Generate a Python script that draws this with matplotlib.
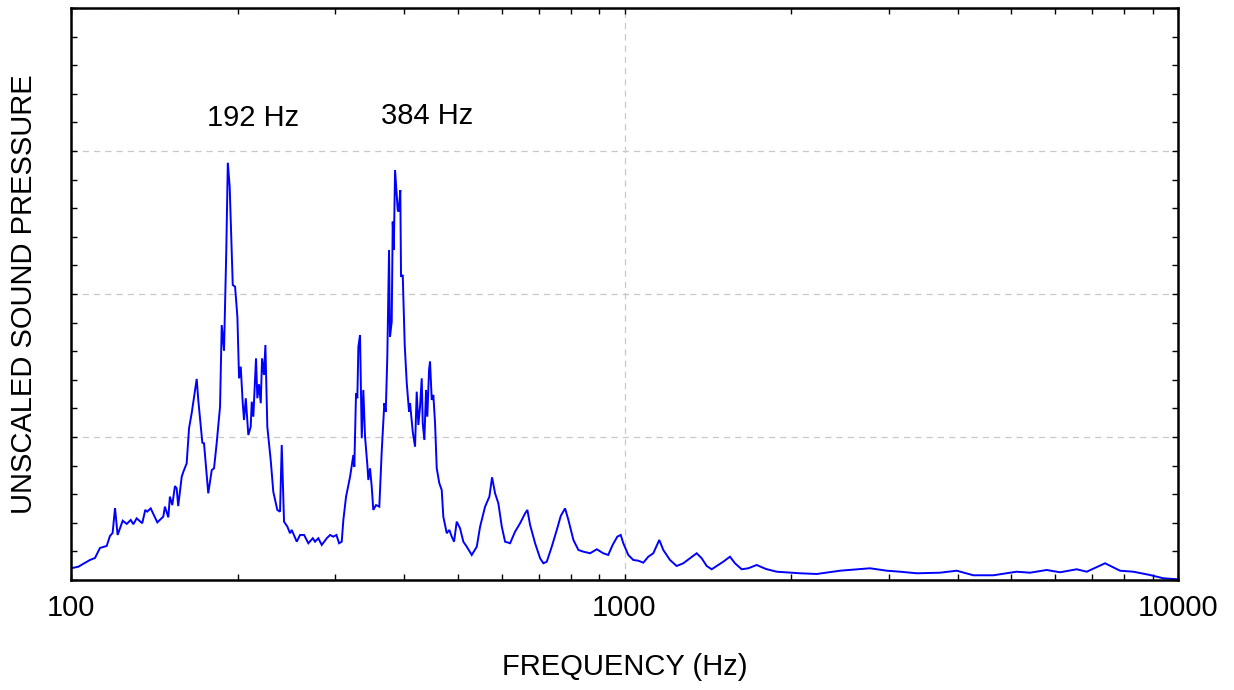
import matplotlib
matplotlib.use("Agg")
import matplotlib.pyplot as plt
from matplotlib.ticker import FixedLocator, NullFormatter, LogLocator, FixedFormatter

# ---- data ----
freq_hz = [
    100, 103.1, 108.2, 110.5, 112.8, 116.0, 117.6, 118.9, 120.1, 121.4,
    124.0, 126.1, 128.2, 129.6, 131.4, 134.5, 136.2, 137.3, 139.3, 143.2,
    146.8, 147.8, 149.9, 150.9, 152.4, 154.1, 155.2, 156.2, 158.5, 159.6,
    161.8, 163.4, 165.2, 168.7, 169.8, 172.7, 173.9, 177.0, 179.6, 181.3,
    183.3, 185.9, 187.2, 189.0, 190.8, 192.0, 193.5, 196.0, 197.9, 199.8,
    201.2, 202.6, 204.3, 205.4, 206.9, 209.1, 211.2, 212.1, 213.5, 215.9,
    217.1, 218.6, 220.2, 221.4, 223.2, 224.5, 226.3, 229.5, 232.0, 235.9,
    238.6, 240.3, 242.6, 246.0, 248.7, 250.5, 255.8, 259.3, 263.7, 268.4,
    273.4, 276.0, 279.8, 283.8, 289.8, 293.8, 297.8, 301.7, 305.0, 308.4,
    310.5, 314.0, 319.3, 323.7, 325.0, 327.3, 329.1, 330.5, 332.8, 335.2,
    337.4, 339.8, 343.1, 344.5, 346.9, 349.4, 351.7, 355.7, 360.6, 364.2,
    368.2, 370.4, 372.8, 375.5, 377.0, 379.7, 381.3, 383.0, 385.0, 389.3,
    390.9, 393.5, 394.7, 397.5, 400.8, 404.2, 408.1, 409.8, 414.4, 418.4,
    421.3, 424.2, 427.2, 430.2, 432.0, 434.9, 438.0, 440.3, 443.5, 445.3,
    448.5, 451.5, 454.7, 457.9, 462.9, 467.5, 470.6, 477.4, 482.6, 487.4,
    492.1, 497.6, 504.5, 511.5, 518.8, 529.7, 540.9, 548.4, 559.9, 570.0,
    576.4, 583.7, 591.7, 600.2, 608.5, 621.3, 634.3, 647.7, 661.3, 667.6,
    675.2, 689.4, 703.9, 713.6, 723.7, 738.9, 754.5, 767.1, 781.0, 791.8,
    808.5, 825.5, 842.8, 866.7, 891.1, 915.3, 934.5, 951.8, 970.5, 984.3,
    995.0, 1015.9, 1037.3, 1059.1, 1081.3, 1104.1, 1127.3, 1155.7, 1175.1, 1208.2,
    1242.4, 1277.0, 1313.1, 1350.2, 1378.6, 1407.6, 1437.2, 1467.4, 1508.2, 1550.8,
    1583.4, 1628.2, 1673.5, 1733.0, 1801.3, 1883.3, 1990.6, 2075.2, 2225.2, 2451.5,
    2776.7, 2977, 3146, 3373, 3715, 3983, 4268, 4638, 5112, 5403,
    5790, 6122, 6562, 6841, 7382, 7858, 8304, 8899, 9407, 10000,
]
pressure = [
    0.082, 0.093, 0.140, 0.154, 0.224, 0.238, 0.308, 0.329, 0.503, 0.315,
    0.415, 0.392, 0.420, 0.390, 0.431, 0.397, 0.490, 0.478, 0.501, 0.403,
    0.443, 0.513, 0.438, 0.583, 0.524, 0.657, 0.641, 0.517, 0.722, 0.757,
    0.816, 1.061, 1.166, 1.406, 1.259, 0.960, 0.956, 0.606, 0.769, 0.781,
    0.956, 1.212, 1.783, 1.603, 2.308, 2.918, 2.750, 2.063, 2.051, 1.841,
    1.410, 1.492, 1.236, 1.119, 1.271, 1.014, 1.072, 1.247, 1.142, 1.550,
    1.271, 1.369, 1.236, 1.550, 1.434, 1.643, 1.072, 0.839, 0.617, 0.490,
    0.478, 0.944, 0.408, 0.373, 0.327, 0.350, 0.268, 0.315, 0.315, 0.257,
    0.292, 0.268, 0.292, 0.245, 0.292, 0.315, 0.303, 0.315, 0.257, 0.268,
    0.420, 0.583, 0.722, 0.874, 0.792, 1.306, 1.271, 1.631, 1.713, 0.991,
    1.329, 1.002, 0.804, 0.699, 0.781, 0.652, 0.490, 0.524, 0.513, 0.897,
    1.236, 1.177, 1.562, 2.308, 1.701, 1.806, 2.506, 2.308, 2.867, 2.587,
    2.576, 2.727, 2.121, 2.133, 1.643, 1.376, 1.177, 1.236, 1.037, 0.932,
    1.317, 1.084, 1.212, 1.410, 1.096, 0.979, 1.329, 1.142, 1.469, 1.527,
    1.259, 1.294, 1.096, 0.781, 0.676, 0.629, 0.443, 0.327, 0.350, 0.303,
    0.268, 0.408, 0.362, 0.268, 0.233, 0.175, 0.233, 0.373, 0.513, 0.583,
    0.718, 0.606, 0.536, 0.373, 0.268, 0.257, 0.338, 0.397, 0.466, 0.490,
    0.385, 0.257, 0.152, 0.117, 0.128, 0.233, 0.350, 0.448, 0.501, 0.420,
    0.280, 0.210, 0.198, 0.187, 0.215, 0.187, 0.175, 0.245, 0.303, 0.315,
    0.257, 0.175, 0.140, 0.135, 0.121, 0.163, 0.187, 0.280, 0.210, 0.140,
    0.098, 0.117, 0.152, 0.187, 0.152, 0.098, 0.075, 0.098, 0.128, 0.163,
    0.117, 0.075, 0.082, 0.105, 0.077, 0.058, 0.052, 0.047, 0.042, 0.065,
    0.082, 0.065, 0.058, 0.047, 0.051, 0.065, 0.033, 0.033, 0.058, 0.051,
    0.070, 0.054, 0.075, 0.058, 0.117, 0.065, 0.058, 0.035, 0.012, 0.005,
]
x_tick_values = [100, 1000, 10000]
x_tick_labels = ["100", "1000", "10000"]
peak_labels = ["192 Hz", "384 Hz"]

plt.rcParams["font.family"] = ["Liberation Sans", "DejaVu Sans"]
FS = 21

fig = plt.figure(figsize=(12.34, 6.90), dpi=100)
ax = fig.add_axes([71 / 1234, 1 - 580 / 690, (1178 - 71) / 1234, (580 - 8) / 690])

ax.plot(freq_hz, pressure, color="#0000ff", lw=1.4, solid_joinstyle="miter")

ax.set_xscale("log")
ax.set_xlim(100, 10000)
ax.set_ylim(0, 4)

ax.xaxis.set_major_locator(FixedLocator(x_tick_values))
ax.xaxis.set_major_formatter(FixedFormatter(x_tick_labels))
ax.xaxis.set_minor_locator(LogLocator(base=10, subs=range(2, 10), numticks=20))
ax.xaxis.set_minor_formatter(NullFormatter())
ax.yaxis.set_major_locator(FixedLocator([0, 1, 2, 3, 4]))
ax.yaxis.set_minor_locator(FixedLocator([i * 0.2 for i in range(21)]))
ax.yaxis.set_major_formatter(NullFormatter())

ax.tick_params(axis="both", which="both", direction="in", top=True, right=True,
               color="black", width=1.0)
ax.tick_params(axis="both", which="major", length=4)
ax.tick_params(axis="both", which="minor", length=4)
ax.tick_params(axis="x", which="major", labelsize=FS, pad=10)

for sp in ax.spines.values():
    sp.set_linewidth(1.8)
    sp.set_color("black")

ax.grid(True, which="major", axis="both", color="#c8c8c8", linestyle=(0, (5, 4)), lw=0.9)
ax.set_axisbelow(True)

ax.set_xlabel("FREQUENCY (Hz)", fontsize=FS)
ax.xaxis.set_label_coords(0.5, -0.128)
ax.set_ylabel("UNSCALED SOUND PRESSURE", fontsize=FS)
ax.yaxis.set_label_coords(-0.030, 0.5)

ax.text(213, 3.23, peak_labels[0], fontsize=FS, ha="center", va="center")
ax.text(440, 3.245, peak_labels[1], fontsize=FS, ha="center", va="center")

fig.savefig("out.png", dpi=100)
